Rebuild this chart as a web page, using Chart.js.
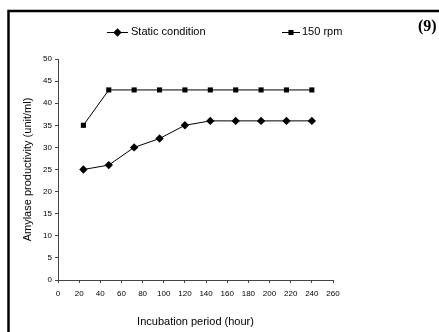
<!DOCTYPE html>
<html>
<head>
<meta charset="utf-8">
<script src="https://cdn.jsdelivr.net/npm/chart.js@4.4.1/dist/chart.umd.min.js"></script>
<style>
  html, body { margin: 0; padding: 0; background: #fff; }
  #wrap { width: 439px; height: 332px; position: relative; }
</style>
</head>
<body>
<div id="wrap"><canvas id="amylaseChart" width="439" height="332"></canvas></div>
<script>
// values
const hours = [24, 48, 72, 96, 120, 144, 168, 192, 216, 240];
const staticCondition = [25, 26, 30, 32, 35, 36, 36, 36, 36, 36];
const rpm150 = [35, 43, 43, 43, 43, 43, 43, 43, 43, 43];
const seriesNames = ['Static condition', '150 rpm'];
const xTickLabels = [0, 20, 40, 60, 80, 100, 120, 140, 160, 180, 200, 220, 240, 260];
const yTickLabels = [0, 5, 10, 15, 20, 25, 30, 35, 40, 45, 50];
const panelLabel = '(9)';

const sansFont = "'Liberation Sans', Arial, sans-serif";

// legend with line + marker samples, and the frame round the figure
const decorPlugin = {
  id: 'decor',
  afterDraw(chart) {
    const c = chart.ctx;
    c.save();
    // frame (only top and left edges are inside the picture)
    c.strokeStyle = '#000';
    c.lineWidth = 2.5;
    c.strokeRect(8.5, 11, 600, 600);

    // panel number
    c.fillStyle = '#000';
    c.font = "bold 16px 'Liberation Serif', 'Times New Roman', serif";
    c.textBaseline = 'middle';
    c.fillText(panelLabel, 418, 27);

    // legend
    const items = [
      { x0: 107, x1: 128, tx: 131 },
      { x0: 282, x1: 300, tx: 302 }
    ];
    c.font = '11px ' + sansFont;
    chart.data.datasets.forEach((ds, i) => {
      const it = items[i];
      const y = 32;
      c.strokeStyle = ds.borderColor;
      c.lineWidth = 1;
      c.beginPath();
      c.moveTo(it.x0, y + 0.5);
      c.lineTo(it.x1, y + 0.5);
      c.stroke();
      c.fillStyle = ds.pointBackgroundColor;
      Chart.helpers.drawPoint(c, {
        pointStyle: ds.pointStyle,
        radius: ds.pointRadius,
        borderWidth: 0
      }, (it.x0 + it.x1) / 2, y + 0.5);
      c.fillStyle = '#000';
      c.fillText(ds.label, it.tx, y);
    });
    c.restore();
  }
};

const ctx = document.getElementById('amylaseChart').getContext('2d');
const amylaseChart = new Chart(ctx, {
  type: 'line',
  data: {
    datasets: [{
      label: seriesNames[0],
      data: hours.map((h, i) => ({ x: h, y: staticCondition[i] })),
      borderColor: '#000',
      borderWidth: 1,
      pointStyle: 'rectRot',
      pointRadius: 4.2,
      pointBackgroundColor: '#000',
      pointBorderColor: '#000',
      pointBorderWidth: 0,
      tension: 0
    }, {
      label: seriesNames[1],
      data: hours.map((h, i) => ({ x: h, y: rpm150[i] })),
      borderColor: '#000',
      borderWidth: 1,
      pointStyle: 'rect',
      pointRadius: 3.6,
      pointBackgroundColor: '#000',
      pointBorderColor: '#000',
      pointBorderWidth: 0,
      tension: 0
    }]
  },
  options: {
    responsive: false,
    animation: false,
    devicePixelRatio: 1,
    layout: { padding: { left: 10, right: 106, top: 59, bottom: 0 } },
    plugins: {
      legend: { display: false },
      tooltip: { enabled: false }
    },
    scales: {
      x: {
        type: 'linear',
        min: xTickLabels[0],
        max: xTickLabels[xTickLabels.length - 1],
        afterFit(scale) { scale.height = 52; },
        afterBuildTicks(scale) { scale.ticks = xTickLabels.map(v => ({ value: v })); },
        grid: { drawOnChartArea: false, drawTicks: true, tickLength: 3, color: '#444' },
        border: { color: '#444', width: 1 },
        ticks: { color: '#000', font: { size: 8, family: sansFont }, padding: 6, maxRotation: 0, autoSkip: false },
        title: {
          display: true,
          text: 'Incubation period (hour)',
          color: '#000',
          font: { size: 11, family: sansFont },
          padding: { top: 0, bottom: 3 }
        }
      },
      y: {
        min: yTickLabels[0],
        max: yTickLabels[yTickLabels.length - 1],
        afterFit(scale) { scale.width = 48; },
        afterBuildTicks(scale) { scale.ticks = yTickLabels.map(v => ({ value: v })); },
        grid: { drawOnChartArea: false, drawTicks: true, tickLength: 3, color: '#444' },
        border: { color: '#444', width: 1 },
        ticks: { color: '#000', font: { size: 8, family: sansFont }, padding: 3, autoSkip: false },
        title: {
          display: true,
          text: 'Amylase productivity (unit/ml)',
          color: '#000',
          font: { size: 11, family: sansFont },
          padding: { top: 11, bottom: 0 }
        }
      }
    }
  },
  plugins: [decorPlugin]
});
</script>
</body>
</html>
